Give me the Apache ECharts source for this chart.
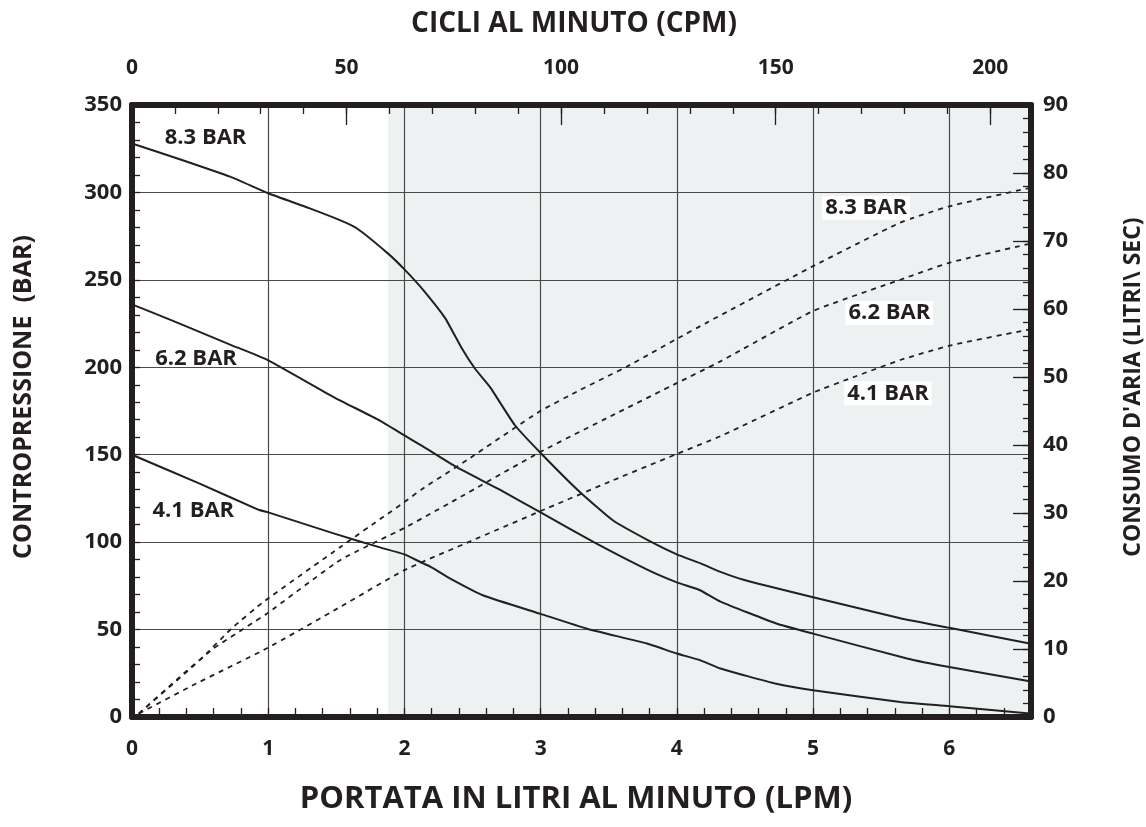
<!DOCTYPE html>
<html>
<head>
<meta charset="utf-8">
<script src="https://cdn.jsdelivr.net/npm/echarts@6/dist/echarts.min.js"></script>
<style>
  html, body { margin: 0; padding: 0; background: #fff; }
  #chart { width: 1146px; height: 827px; }
</style>
</head>
<body>
<div id="chart"></div>
<script>
// portata (LPM) vs contropressione (BAR) -- solid curves, left axis
const pressure83 = [[0,328],[0.35,319],[0.72,309],[1.0,299.5],[1.3,291],[1.53,284],[1.65,279.5],[1.88,265],[2.0,256],[2.14,244],[2.3,228],[2.42,211],[2.52,199],[2.63,188.5],[2.81,167],[3.0,151],[3.29,128.5],[3.53,112.5],[3.79,101],[4.0,93],[4.17,88],[4.32,83],[4.49,78.5],[5.0,68.5],[5.64,56.5],[6.0,51],[6.59,42]]
const pressure62 = [[0,236],[0.35,225],[0.72,213],[1.0,204],[1.48,183],[1.82,169.5],[2.0,161],[2.12,155.5],[2.38,143],[2.7,130],[3.0,117],[3.39,100],[3.79,84],[4.0,77],[4.17,72.5],[4.32,66],[4.73,53.5],[5.0,47.7],[5.69,33.5],[6.0,28.6],[6.59,20.5]]
const pressure41 = [[0,150],[0.48,134],[0.93,118.5],[1.0,117],[1.48,105],[1.82,97],[2.0,93],[2.12,88.5],[2.19,86],[2.34,79],[2.58,69.5],[3.0,59],[3.34,50.5],[3.78,42],[4.0,36.3],[4.17,32.5],[4.32,27.7],[4.73,19],[5.0,15.3],[5.64,8.6],[6.0,6.2],[6.59,2]]

// consumo d'aria (litri/sec) -- dashed curves, right axis
const air83 = [[0.05,0.5],[0.5,8.4],[0.73,13],[0.97,17],[1.53,25],[1.85,29.5],[2.0,31.6],[2.12,33.4],[2.46,37.8],[2.99,44.9],[3.29,48.1],[3.64,51.6],[3.99,55.5],[4.22,58],[5.0,66.3],[5.64,72.7],[6.0,75.1],[6.59,77.8]]
const air62 = [[0.05,0.5],[0.38,6.4],[0.6,10.1],[0.99,15.2],[1.53,23.1],[2.0,27.8],[2.38,32],[3.0,39],[3.53,44.4],[4.0,49.1],[4.32,52.3],[5.0,59.7],[5.64,64.3],[6.0,66.8],[6.59,69.6]]
const air41 = [[0.05,0.5],[0.45,4.7],[0.99,10.1],[1.53,16.2],[2.0,21.6],[2.48,25.8],[2.99,30.2],[3.53,34.8],[3.99,38.6],[4.32,41.3],[5.0,47.7],[5.3,50],[5.64,52.5],[6.0,54.6],[6.59,57]]

// curve labels [x, y, text]
const pressureLabels = [[0.54,331,'8.3 BAR'],[0.47,205,'6.2 BAR'],[0.45,118,'4.1 BAR']]
const airLabels = [[5.39,74.9,'8.3 BAR'],[5.56,59.4,'6.2 BAR'],[5.55,47.6,'4.1 BAR']]

const lpmMax = 6.6
const cpmMax = 209.5
const shadeFrom = 1.88

const ink = '#231f20'
const font = 'Open Sans'

const lbl = (size) => ({ fontFamily: font, fontWeight: 'bold', fontSize: size, color: ink })

const labelPoints = (arr, bg) => ({
    silent: true,
    symbol: 'rect',
    symbolSize: 1,
    itemStyle: { color: 'rgba(0,0,0,0)' },
    label: Object.assign({
        show: true,
        position: 'inside',
        formatter: '{b}',
        backgroundColor: bg ? '#fff' : 'transparent',
        padding: bg ? [1, 3] : 0
    }, lbl(22)),
    data: arr.map(p => ({ name: p[2], coord: [p[0], p[1]] }))
})

const solid = (data, extra) => Object.assign({
    type: 'line',
    xAxisIndex: 0,
    yAxisIndex: 0,
    data: data,
    showSymbol: false,
    smooth: 0.15,
    lineStyle: { color: ink, width: 2 }
}, extra)

const dashed = (data, extra) => Object.assign({
    type: 'line',
    xAxisIndex: 0,
    yAxisIndex: 1,
    data: data,
    showSymbol: false,
    smooth: 0.15,
    lineStyle: { color: ink, width: 1.8, type: [5, 5] }
}, extra)

// frame line (onZero off so every axis stays on its own side)
const frame = { show: true, onZero: false, lineStyle: { color: ink, width: 6 } }

// tick-only axis used for the small inward ticks along the frame
const tickAxis = (position, max, interval, len) => ({
    type: 'value', position: position, offset: 0, min: 0, max: max, interval: interval,
    axisLine: { show: false, onZero: false },
    axisTick: { show: true, inside: true, length: len, lineStyle: { color: ink, width: 1.3 } },
    axisLabel: { show: false },
    splitLine: { show: false }
})

let Charts = echarts.init(document.getElementById('chart'))
Charts.setOption({
    animation: false,
    grid: { left: 132, right: 115, top: 105, bottom: 110, show: false },
    xAxis: [
        {
            type: 'value', position: 'bottom', min: 0, max: lpmMax, interval: 1,
            axisLine: frame,
            axisTick: { show: false },
            axisLabel: Object.assign({ margin: 22, showMaxLabel: false }, lbl(21)),
            splitLine: { show: true, lineStyle: { color: '#4a4a4a', width: 1.2 } }
        },
        {
            type: 'value', position: 'top', min: 0, max: cpmMax, interval: 50,
            axisLine: frame,
            axisTick: { show: false },
            axisLabel: Object.assign({ margin: 26, showMaxLabel: false }, lbl(21)),
            splitLine: { show: false }
        },
        tickAxis('bottom', lpmMax, 0.2, 9),
        tickAxis('top', cpmMax, 10, 9),
        tickAxis('top', cpmMax, 50, 20)
    ],
    yAxis: [
        {
            type: 'value', position: 'left', min: 0, max: 350, interval: 50,
            axisLine: frame,
            axisTick: { show: false },
            axisLabel: Object.assign({ margin: 10 }, lbl(22)),
            splitLine: { show: true, lineStyle: { color: '#4a4a4a', width: 1.2 } }
        },
        {
            type: 'value', position: 'right', min: 0, max: 90, interval: 10,
            axisLine: frame,
            axisTick: { show: false },
            axisLabel: Object.assign({ margin: 12 }, lbl(22)),
            splitLine: { show: false }
        },
        tickAxis('left', 350, 10, 8),
        tickAxis('right', 90, 2, 8),
        tickAxis('right', 90, 10, 18)
    ],
    graphic: [
        { type: 'text', x: 574, y: 24, silent: true,
          style: { text: 'CICLI AL MINUTO (CPM)', align: 'center', verticalAlign: 'middle', font: 'bold 28px "Open Sans"', fill: ink } },
        { type: 'text', x: 576, y: 799, silent: true,
          style: { text: 'PORTATA IN LITRI AL MINUTO (LPM)', align: 'center', verticalAlign: 'middle', font: 'bold 31px "Open Sans"', fill: ink } },
        { type: 'text', x: 24, y: 397, rotation: Math.PI / 2, silent: true,
          style: { text: 'CONTROPRESSIONE  (BAR)', align: 'center', verticalAlign: 'middle', font: 'bold 25px "Open Sans"', fill: ink } },
        { type: 'text', x: 1133, y: 387, rotation: Math.PI / 2, silent: true,
          style: { text: "CONSUMO D'ARIA (LITRI\\ SEC)", align: 'center', verticalAlign: 'middle', font: 'bold 23px "Open Sans"', fill: ink } }
    ],
    series: [
        {
            type: 'line', xAxisIndex: 0, yAxisIndex: 0, z: -1,
            data: [[0, 0]], showSymbol: false, lineStyle: { opacity: 0 },
            markArea: {
                silent: true, z: -1,
                itemStyle: { color: '#edf1f2' },
                data: [[{ xAxis: shadeFrom }, { xAxis: lpmMax }]]
            }
        },
        solid(pressure83, { markPoint: labelPoints(pressureLabels, false) }),
        solid(pressure62),
        solid(pressure41),
        dashed(air83, { markPoint: labelPoints(airLabels, true) }),
        dashed(air62),
        dashed(air41)
    ]
})
</script>
</body>
</html>
